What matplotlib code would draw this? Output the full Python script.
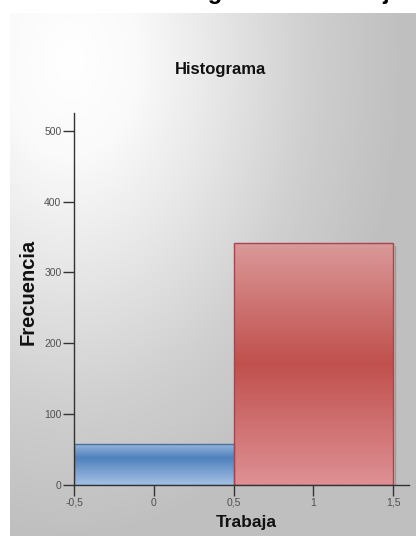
import matplotlib.pyplot as plt
import numpy as np
from matplotlib.colors import LinearSegmentedColormap
from matplotlib.patches import Rectangle

# histogram of "Trabaja": bin edges and counts
bin_edges = [-0.5, 0.5, 1.5]
counts = [58, 342]
bar_colors = [('#9bb9df', '#4f81bd', '#a5c1e4'), ('#da9999', '#c0504d', '#de9094')]
bar_mid = [0.35, 0.5]
edge_colors = ['#4a6f9f', '#a8444c']
xticks = [-0.5, 0, 0.5, 1, 1.5]
xtick_labels = ['-0,5', '0', '0,5', '1', '1,5']
yticks = [0, 100, 200, 300, 400, 500]

W, H = 416, 536
FONT = 'Liberation Sans'
fig = plt.figure(figsize=(W / 100, H / 100), dpi=100)
fig.patch.set_facecolor('white')

# grey panel with a soft light glow in the upper left
bg = fig.add_axes([10 / W, 0, (W - 10) / W, (H - 13) / H], zorder=-2)
px, py = np.meshgrid(np.arange(10, W), np.arange(13, H))
d = np.sqrt(((px - 70) / 280.0) ** 2 + ((py - 60) / 400.0) ** 2)
bg_cmap = LinearSegmentedColormap.from_list(
    'bg', [(0, '#ffffff'), (0.2, '#fafafa'), (0.45, '#e6e6e6'),
           (0.72, '#cfcfcf'), (1.0, '#bfbfbf')])
bg.imshow(np.clip(d / 1.2, 0, 1), cmap=bg_cmap, vmin=0, vmax=1, aspect='auto',
          extent=[0, 1, 0, 1], origin='upper', interpolation='bilinear')
bg.axis('off')

# heading cut by the top edge of the image
fig.text(25 / W, 1 + 1 / H, 'Gráfico de Histograma de Trabaja', ha='left', va='baseline',
         fontsize=17, fontweight='bold', family=FONT, color='black')

ax = fig.add_axes([74 / W, 51 / H, 335 / W, 372 / H])
ax.set_facecolor('none')
ax.set_xlim(-0.5, 1.6)
ax.set_ylim(0, 525)

for i, c in enumerate(counts):
    x0, x1 = bin_edges[i], bin_edges[i + 1]
    top, mid, low = bar_colors[i]
    cmap = LinearSegmentedColormap.from_list('bar%d' % i, [(0, top), (bar_mid[i], mid), (1, low)])
    grad = np.linspace(0, 1, 200).reshape(-1, 1)
    im = ax.imshow(grad, cmap=cmap, aspect='auto', extent=[x0, x1, 0, c],
                   origin='upper', zorder=2)
    rect = Rectangle((x0, 0), x1 - x0, c, facecolor='none',
                     edgecolor=edge_colors[i], linewidth=1.0, zorder=3)
    ax.add_patch(rect)
    im.set_clip_path(rect)
    # thin shadow on the right edge
    ax.plot([x1 + 0.012, x1 + 0.012], [0, c - 4], color='#7a7a7a', lw=1.0, alpha=0.5, zorder=1)

for s in ['top', 'right']:
    ax.spines[s].set_visible(False)
for s in ['left', 'bottom']:
    ax.spines[s].set_color('#333333')
    ax.spines[s].set_linewidth(1.0)
    ax.spines[s].set_zorder(4)

ax.set_xticks(xticks)
ax.set_xticklabels(xtick_labels)
ax.set_yticks(yticks)
ax.tick_params(axis='both', direction='out', length=8, width=1.0, color='#333333',
               labelsize=7.5, labelcolor='#505050', pad=1)
for lbl in ax.get_xticklabels() + ax.get_yticklabels():
    lbl.set_family(FONT)

# axis titles and chart title
fig.text(246 / W, 1 - 522 / H, 'Trabaja', ha='center', va='center', fontsize=12.5,
         fontweight='bold', family=FONT, color='#111111')
fig.text(28 / W, 1 - 292 / H, 'Frecuencia', ha='center', va='center', rotation=90,
         fontsize=14.5, fontweight='bold', family=FONT, color='#111111')
fig.text(221 / W, 1 - 69 / H, 'Histograma', ha='center', va='center', fontsize=12,
         fontweight='bold', family=FONT, color='#111111')

fig.savefig('out.png', dpi=100)
